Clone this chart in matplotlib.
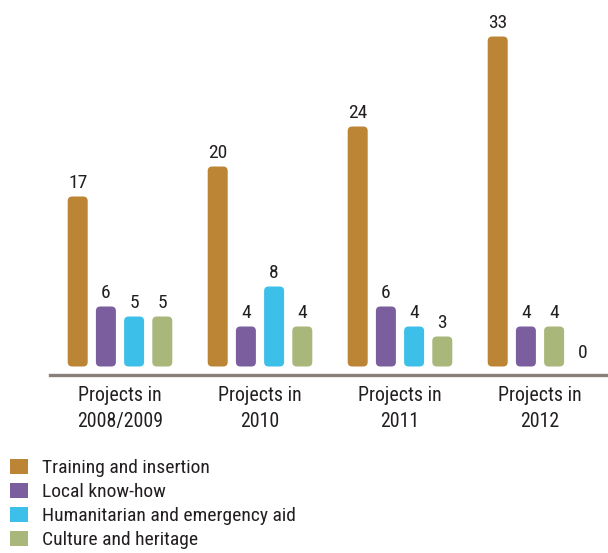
import matplotlib
matplotlib.use("Agg")
import matplotlib.pyplot as plt
import numpy as np
from matplotlib.patches import FancyBboxPatch, Patch

groups = ["Projects in\n2008/2009", "Projects in\n2010", "Projects in\n2011", "Projects in\n2012"]
series_names = ["Training and insertion", "Local know-how",
                "Humanitarian and emergency aid", "Culture and heritage"]
training = [17, 20, 24, 33]
local = [6, 4, 6, 4]
humanitarian = [5, 8, 4, 4]
culture = [5, 4, 3, 0]
values = [training, local, humanitarian, culture]

c_orange = "#BC8536"
c_purple = "#7B5E9E"
c_cyan = "#3CBFE9"
c_green = "#A9B77B"
series_colors = [c_orange, c_purple, c_cyan, c_green]
# per-bar colours (the 2012 humanitarian bar is drawn green in the original)
bar_colors = [[c_orange] * 4, [c_purple] * 4, [c_cyan, c_cyan, c_cyan, c_green], [c_green] * 4]

plt.rcParams["font.family"] = ["Roboto Condensed", "DejaVu Sans"]
txt_color = "#231F20"

W, H = 608, 553
fig = plt.figure(figsize=(W / 100, H / 100), dpi=100)
line_px = 374.5
px_per_unit_y = 10.0
gap_units = 0.8
ax = fig.add_axes([50 / W, (H - line_px) / H, 1 - 50 / W, line_px / H])
ax.set_ylim(-gap_units, -gap_units + line_px / px_per_unit_y)
grp_px = 140.0
ax.set_xlim((50 - 120) / grp_px, (608 - 120) / grp_px)

x = np.arange(len(groups))
offsets = np.array([-1.5, -0.5, 0.5, 1.5]) * (28.2 / grp_px)
bw = 20 / grp_px
r_x = 4.5 / grp_px
aspect = (4.5 / px_per_unit_y) / r_x

for i, vals in enumerate(values):
    for j, v in enumerate(vals):
        xc = x[j] + offsets[i]
        if v > 0:
            p = FancyBboxPatch((xc - bw / 2, 0), bw, v,
                               boxstyle=f"round,pad=0,rounding_size={r_x}",
                               mutation_aspect=aspect,
                               facecolor=bar_colors[i][j], edgecolor="none")
            ax.add_patch(p)
        ax.annotate(str(v), (xc, v), xytext=(0, 3.5), textcoords="offset points",
                    ha="center", va="bottom", fontsize=14, color=txt_color)

for s in ["top", "right", "left"]:
    ax.spines[s].set_visible(False)
ax.spines["bottom"].set_color("#8A807B")
ax.spines["bottom"].set_linewidth(2.4)
ax.set_yticks([])
ax.set_xticks(x)
ax.set_xticklabels(groups, fontsize=14.3, color=txt_color, linespacing=1.45)
ax.tick_params(axis="x", length=0, pad=8.5)

handles = [Patch(facecolor=c, edgecolor="none") for c in series_colors]
fig.legend(handles, series_names, loc="upper left", bbox_to_anchor=(10 / W, 1 - 459 / H),
           frameon=False, fontsize=14, handlelength=0.93, handleheight=0.8,
           handletextpad=0.72, labelspacing=0.3, borderaxespad=0, borderpad=0,
           labelcolor=txt_color)

fig.savefig("out.png", dpi=100)
